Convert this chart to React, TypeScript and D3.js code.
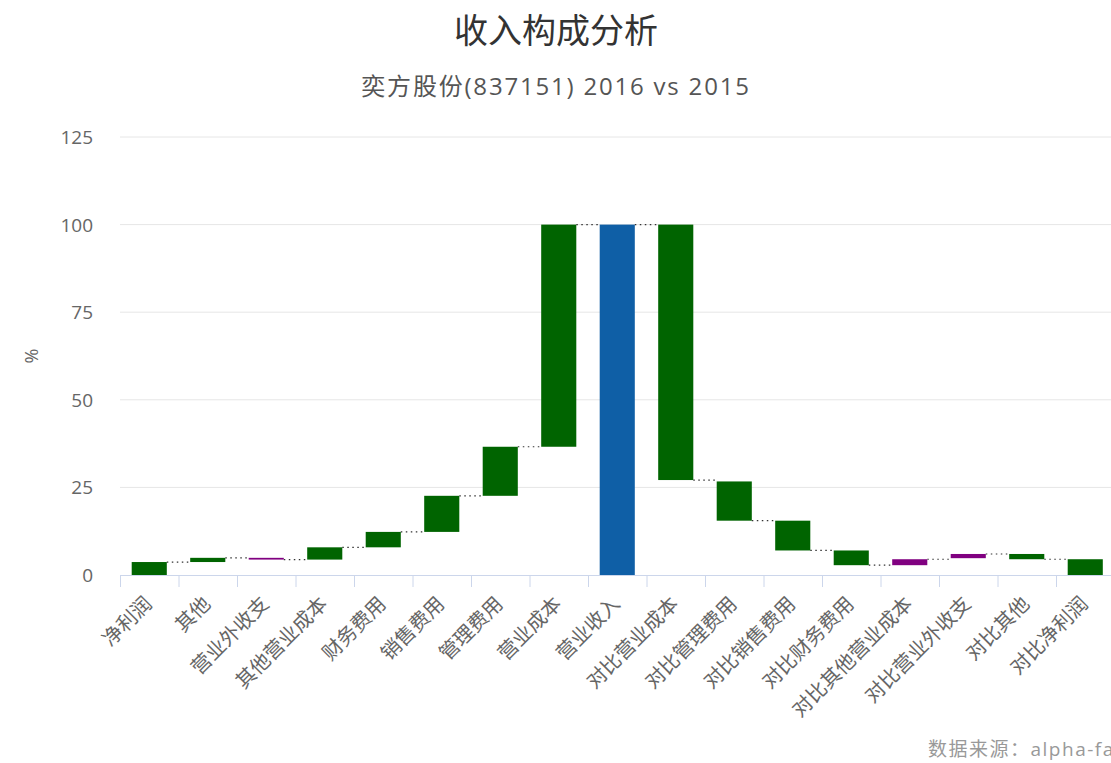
import React from "react";
import * as d3 from "d3";

const categories = [
  "净利润", "其他", "营业外收支", "其他营业成本", "财务费用", "销售费用", "管理费用", "营业成本",
  "营业收入",
  "对比营业成本", "对比管理费用", "对比销售费用", "对比财务费用", "对比其他营业成本", "对比营业外收支", "对比其他", "对比净利润",
];
// each bar spans from start to end (percent of revenue)
const barStart = [0, 3.7, 4.9, 4.4, 7.9, 12.3, 22.6, 36.6, 0, 100, 26.7, 15.5, 7.0, 2.8, 4.8, 6.0, 4.5];
const barEnd = [3.7, 4.9, 4.4, 7.9, 12.3, 22.6, 36.6, 100, 100, 27.1, 15.5, 7.0, 2.8, 4.5, 6.0, 4.5, 0];
const barKind = ["g", "g", "p", "g", "g", "g", "g", "g", "b", "g", "g", "g", "g", "p", "p", "g", "g"];
const yTicks = [0, 25, 50, 75, 100, 125];

const colors: Record<string, string> = { g: "#006400", p: "#800080", b: "#0f5fa6" };
const FONT = "'Open Sans', 'Noto Sans CJK SC', sans-serif";

export default function App() {
  const W = 1111, H = 763;
  const left = 120, right = 120 + 17 * 58.5, top = 137, bottom = 575;
  const x = d3.scaleBand<string>().domain(categories).range([left, right]).paddingInner(0.4).paddingOuter(0.2);
  const y = d3.scaleLinear().domain([0, 125]).range([bottom, top]);
  const step = x.step();

  return (
    <svg width={W} height={H} style={{ position: "absolute", left: 0, top: 0, background: "#fff" }} fontFamily={FONT}>
      <text x={556} y={43} textAnchor="middle" fontSize={34} fill="#333">收入构成分析</text>
      <text x={556} y={95} textAnchor="middle" fontSize={24} letterSpacing={1.8} fill="#555">奕方股份(837151) 2016 vs 2015</text>

      {yTicks.map((t) => (
        <g key={t}>
          {t !== 0 && <line x1={left} x2={W} y1={y(t)} y2={y(t)} stroke="#e6e6e6" strokeWidth={1} />}
          <text x={93} y={y(t) + 7} textAnchor="end" fontSize={19} fill="#666">{t}</text>
        </g>
      ))}
      <text transform={`translate(38,${356}) rotate(-90)`} textAnchor="middle" fontSize={18} fill="#666">%</text>

      {/* x axis */}
      <line x1={left} x2={W} y1={bottom + 0.5} y2={bottom + 0.5} stroke="#ccd6eb" strokeWidth={1} />
      {categories.map((c, i) => (
        <line key={"tk" + i} x1={left + i * step + 0.5} x2={left + i * step + 0.5} y1={bottom} y2={bottom + 12} stroke="#ccd6eb" />
      ))}

      {/* connectors */}
      {categories.slice(0, -1).map((c, i) => {
        const x1 = (x(c) as number) + x.bandwidth();
        const x2 = x(categories[i + 1]) as number;
        const yy = y(barEnd[i]);
        return <line key={"cn" + i} x1={x1} x2={x2} y1={yy} y2={yy} stroke="#333" strokeWidth={1.2} strokeDasharray="1.5,3.5" />;
      })}

      {/* bars */}
      {categories.map((c, i) => {
        const y0 = y(Math.max(barStart[i], barEnd[i]));
        const y1 = y(Math.min(barStart[i], barEnd[i]));
        return (
          <rect key={"b" + i} x={x(c)} y={y0} width={x.bandwidth()} height={Math.max(1, y1 - y0)} fill={colors[barKind[i]]} />
        );
      })}

      {/* x labels */}
      {categories.map((c) => {
        const cx = (x(c) as number) + x.bandwidth() / 2;
        return (
          <text key={"l" + c} transform={`translate(${cx + 4},${bottom + 30}) rotate(-45)`} textAnchor="end" fontSize={20} fill="#666">{c}</text>
        );
      })}

      <text x={928} y={756} fontSize={19} letterSpacing={1.5} fill="#999">数据来源：alpha-factor.cn</text>
    </svg>
  );
}
